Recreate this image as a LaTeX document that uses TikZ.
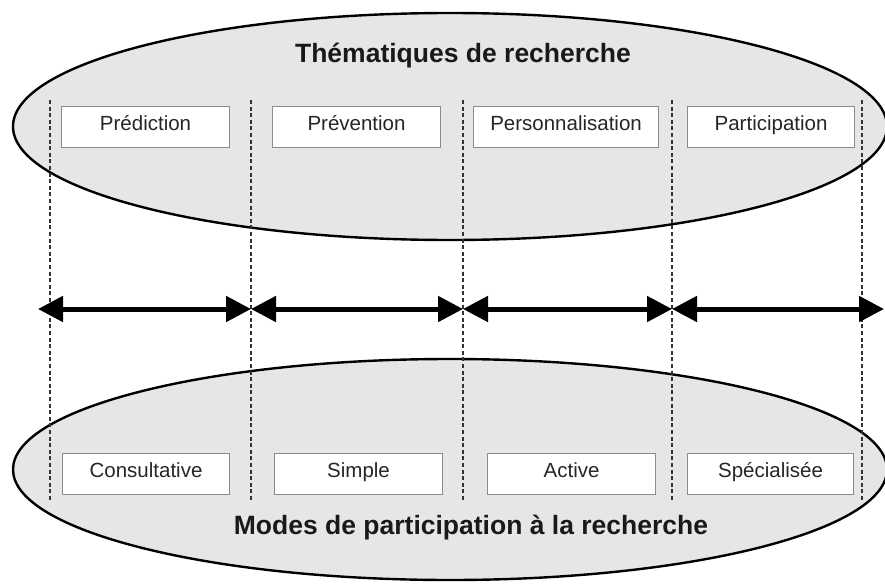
\documentclass[tikz,border=0pt]{standalone}
\usepackage{fontspec}
\setmainfont{Liberation Sans}
\usetikzlibrary{arrows.meta}
\definecolor{ellfill}{HTML}{E6E6E6}
\definecolor{boxline}{HTML}{8C8C8C}
\definecolor{dashcol}{HTML}{333333}
\definecolor{labcol}{HTML}{262626}
\tikzset{
  ellstyle/.style={fill=ellfill, draw=black, line width=2.4pt},
  sepline/.style={draw=dashcol, line width=1.5pt, dash pattern=on 4pt off 2.6pt},
  labbox/.style={draw=boxline, fill=white, line width=1.1pt, minimum width=#1, minimum height=41pt,
    inner sep=0pt, text height=15pt, text depth=8pt,
    font=\fontsize{20.5}{23}\selectfont, text=labcol, anchor=north west},
  title/.style={font=\bfseries\fontsize{26.5}{29}\selectfont, text=black!90, anchor=base},
  bigarrow/.style={line width=5pt, {Triangle[length=25pt,width=25pt]}-{Triangle[length=25pt,width=25pt]}}
}
\begin{document}
\begin{tikzpicture}[x=1pt,y=-1pt]
\useasboundingbox (0,0) rectangle (885,583);
% ellipses
\draw[ellstyle] (450,126.5) ellipse [x radius=437pt, y radius=113.5pt];
\draw[ellstyle] (450,469.5) ellipse [x radius=437pt, y radius=110.5pt];
% separator coordinates
\foreach \i/\x in {0/50,1/251,2/463,3/672,4/862}{
  \coordinate (t\i) at (\x,100);
  \coordinate (b\i) at (\x,500);
}
\foreach \i in {0,...,4}{ \draw[sepline] (t\i) -- (b\i); }
% top boxes
\node[labbox=168pt] (pred) at (61,106) {Prédiction};
\node[labbox=168pt] (prev) at (272,106) {Prévention};
\node[labbox=185pt] (pers) at (473,106) {Personnalisation};
\node[labbox=167pt] (part) at (687,106) {Participation};
% bottom boxes
\node[labbox=167pt] (cons) at (62,453) {Consultative};
\node[labbox=168pt] (simp) at (274,453) {Simple};
\node[labbox=168pt] (acti) at (487,453) {Active};
\node[labbox=166pt] (spec) at (687,453) {Spécialisée};
% titles
\node[title] (ttop) at (463,63) {Thématiques de recherche};
\node[title] (tbot) at (471,534) {Modes de participation à la recherche};
% arrows
\coordinate (a0) at (38,309);
\coordinate (a1) at (251,309);
\coordinate (a2) at (463,309);
\coordinate (a3) at (672,309);
\coordinate (a4) at (884,309);
\draw[bigarrow] (a0) -- (a1);
\draw[bigarrow] (a1) -- (a2);
\draw[bigarrow] (a2) -- (a3);
\draw[bigarrow] (a3) -- (a4);
\end{tikzpicture}
\end{document}
